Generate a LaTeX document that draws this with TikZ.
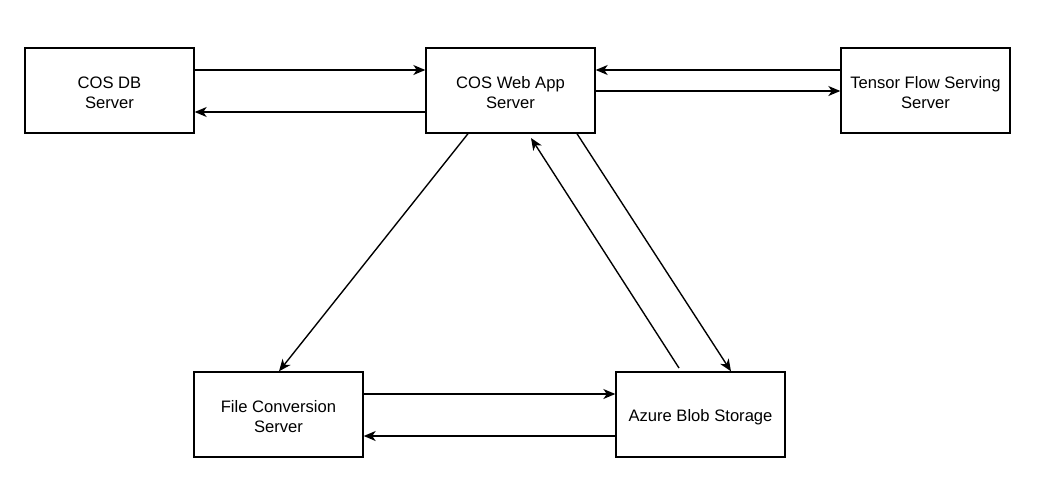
\documentclass[tikz,border=0pt]{standalone}
\usepackage{fontspec}
\setmainfont{Liberation Sans}
\usetikzlibrary{arrows.meta}
\begin{document}
\begin{tikzpicture}[x=1pt,y=-1pt,
  box/.style={draw=black,line width=1.38pt,fill=white,minimum width=169pt,minimum height=85pt,
    inner sep=0pt},
  txt/.style={align=center,font=\fontsize{16.6}{20}\selectfont,yshift=-2.5pt,inner sep=0pt},
  arr/.style={draw=black,line width=1.38pt,-{Stealth[length=12pt,width=10pt,inset=3.5pt]}}]
\useasboundingbox (0,0) rectangle (1037,490);
\node[box,label={[txt]center:COS DB\\Server}] (db) at (109.5,90.5) {};
\node[box,label={[txt]center:COS Web App\\Server}] (web) at (510.5,90.5) {};
\node[box,label={[txt]center:Tensor Flow Serving\\Server}] (tf) at (925.5,90.5) {};
\node[box,label={[txt]center:File Conversion\\Server}] (fc) at (278.5,414.5) {};
\node[box,label={[txt]center:Azure Blob Storage}] (az) at (700.5,414.5) {};
\coordinate (azout) at (679,368);
\coordinate (webin) at (531,138);
\draw[arr] (db.east |- 0,70) -- (web.west |- 0,70);
\draw[arr] (web.west |- 0,112) -- (db.east |- 0,112);
\draw[arr] (tf.west |- 0,70) -- (web.east |- 0,70);
\draw[arr] (web.east |- 0,91) -- (tf.west |- 0,91);
\draw[arr] (web.south -| 468,0) -- (fc.north -| 279,0);
\draw[arr] (azout) -- (webin);
\draw[arr] (web.south -| 577,0) -- (az.north -| 731,0);
\draw[arr] (fc.east |- 0,394) -- (az.west |- 0,394);
\draw[arr] (az.west |- 0,436) -- (fc.east |- 0,436);
\end{tikzpicture}
\end{document}
